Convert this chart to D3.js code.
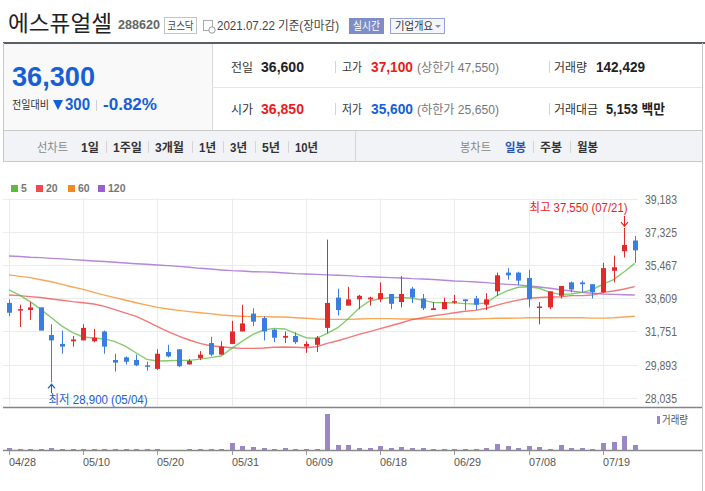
<!DOCTYPE html>
<html lang="ko">
<head>
<meta charset="utf-8">
<title>에스퓨얼셀 일봉</title>
<script src="https://d3js.org/d3.v7.min.js"></script>
<style>
    body { margin: 0; background: #fff; }
    svg { display: block; font-family: "Liberation Sans", "Noto Sans CJK KR", sans-serif; }
</style>
</head>
<body>
<div id="chart"></div>
<script>
    // trading days shown on the daily candle chart
    var dates = ["04/28", "04/29", "04/30", "05/03", "05/04", "05/06", "05/07", "05/10", "05/11", "05/12",
        "05/13", "05/14", "05/17", "05/18", "05/20", "05/21", "05/24", "05/25", "05/26", "05/27",
        "05/28", "05/31", "06/01", "06/02", "06/03", "06/04", "06/07", "06/08", "06/09", "06/10",
        "06/11", "06/14", "06/15", "06/16", "06/17", "06/18", "06/21", "06/22", "06/23", "06/24",
        "06/25", "06/28", "06/29", "06/30", "07/01", "07/02", "07/05", "07/06", "07/07", "07/08",
        "07/09", "07/12", "07/13", "07/14", "07/15", "07/16", "07/19", "07/20", "07/21", "07/22"];

    var open = [33350, 32950, 32950, 33100, 31550, 31050, 31200, 31250, 31200, 31750,
        30150, 30300, 30150, 29850, 29650, 30600, 30750, 29900, 30250, 31100,
        30450, 31050, 31750, 32750, 32500, 31850, 31400, 31500, 30900, 31000,
        31950, 33650, 33200, 33550, 33550, 33550, 33850, 33400, 34150, 33600,
        32950, 33000, 33400, 33550, 33600, 33250, 34000, 35050, 35050, 34750,
        33100, 33100, 33750, 34500, 34500, 34400, 33950, 35150, 36250, 36850];
    var high = [33550, 33250, 33400, 33100, 32150, 31800, 31500, 32150, 31900, 31800,
        30500, 30350, 30450, 30050, 30750, 31000, 30750, 30200, 30650, 31450,
        31200, 32350, 33250, 33050, 32600, 31900, 31750, 31700, 31200, 31500,
        36900, 34150, 34250, 33800, 33700, 34500, 33850, 34850, 34250, 33850,
        33400, 33650, 33800, 33550, 33750, 33900, 35050, 35300, 35100, 35200,
        33400, 34000, 34300, 34550, 34600, 34400, 35600, 36000, 37550, 37100];
    var low = [32600, 32000, 32400, 31800, 28900, 30500, 30900, 31250, 31150, 30500,
        29500, 29900, 29800, 29550, 29600, 30300, 29750, 29900, 30150, 30350,
        30450, 31050, 31750, 32050, 31250, 31150, 31100, 31050, 30550, 30600,
        31650, 32650, 33200, 33000, 33200, 33400, 33000, 33100, 33350, 32950,
        32950, 33000, 33300, 32950, 32950, 32950, 33750, 34650, 34350, 33100,
        32150, 33000, 33600, 33950, 33950, 33600, 33900, 34500, 35900, 35600];
    var close = [32800, 33000, 33100, 31800, 31250, 30900, 31300, 31950, 31400, 30900,
        30000, 30050, 29850, 29800, 30500, 30350, 29800, 30100, 30450, 30450,
        30900, 31750, 32200, 32300, 31750, 31400, 31500, 31150, 31050, 31400,
        33350, 32950, 33550, 33750, 33650, 33900, 33300, 33850, 33650, 33050,
        33050, 33400, 33450, 33450, 33250, 33550, 34900, 34900, 34600, 33550,
        33150, 34000, 34300, 34100, 34400, 33950, 35300, 35350, 36600, 36300];
    var volume = [65000, 38000, 35000, 40000, 70000, 36000, 33000, 40000, 34000, 36000,
        38000, 33000, 32000, 35000, 38000, 10000, 12000, 36000, 40000, 42000,
        40000, 205000, 125000, 95000, 68000, 42000, 66000, 38000, 40000, 42000,
        1080000, 145000, 145000, 66000, 64000, 115000, 65000, 85000, 64000, 66000,
        38000, 36000, 40000, 38000, 42000, 64000, 175000, 115000, 66000, 112000,
        85000, 42000, 142000, 64000, 66000, 42000, 205000, 235000, 420000, 142429];

    var ma5 = [34080, 33790, 33420, 32990, 32520, 32050, 31680, 31440, 31380, 31330,
        31180, 30910, 30540, 30180, 30090, 30110, 30130, 30130, 30200, 30280,
        30370, 30800, 31210, 31590, 31830, 31920, 31890, 31640, 31400, 31360,
        31640, 31960, 32480, 33050, 33460, 33590, 33650, 33650, 33610, 33510,
        33380, 33360, 33350, 33310, 33290, 33350, 33760, 34040, 34230, 34260,
        34170, 33940, 33830, 33850, 33940, 34090, 34410, 34660, 35100, 35570];
    var ma20 = [33790, 33760, 33700, 33650, 33570, 33500, 33420, 33360, 33290, 33160,
        32970, 32780, 32600, 32320, 32020, 31740, 31490, 31270, 31080, 30950,
        30890, 30840, 30800, 30800, 30820, 30860, 30880, 30860, 30840, 30890,
        31080, 31230, 31400, 31590, 31740, 31910, 32070, 32240, 32410, 32520,
        32630, 32710, 32800, 32880, 32930, 33050, 33230, 33380, 33510, 33610,
        33650, 33680, 33700, 33760, 33760, 33790, 33940, 34020, 34130, 34260];
    var ma60 = [34920, 34840, 34770, 34650, 34540, 34390, 34240, 34110, 33940, 33790,
        33650, 33500, 33360, 33230, 33100, 33010, 32930, 32860, 32800, 32750,
        32670, 32630, 32600, 32580, 32580, 32560, 32560, 32520, 32490, 32450,
        32430, 32430, 32430, 32450, 32470, 32470, 32470, 32450, 32450, 32450,
        32450, 32450, 32450, 32450, 32450, 32470, 32490, 32490, 32500, 32520,
        32520, 32520, 32520, 32520, 32520, 32500, 32500, 32520, 32560, 32600];
    var ma120 = [35980, 35950, 35910, 35890, 35850, 35820, 35780, 35740, 35700, 35670,
        35630, 35590, 35550, 35520, 35480, 35440, 35400, 35350, 35290, 35250,
        35200, 35160, 35140, 35100, 35090, 35070, 35030, 34990, 34970, 34950,
        34920, 34900, 34880, 34840, 34820, 34790, 34770, 34750, 34710, 34690,
        34660, 34620, 34580, 34560, 34520, 34490, 34430, 34390, 34360, 34300,
        34240, 34170, 34090, 34020, 33940, 33890, 33850, 33830, 33810, 33790];

    var maNames = ["5", "20", "60", "120"];
    var maColors = ["#5dbb3f", "#ef4b4b", "#f5891f", "#9d5fcf"];
    var priceTicks = [39183, 37325, 35467, 33609, 31751, 29893, 28035];
    var dateTicks = ["04/28", "05/10", "05/20", "05/31", "06/09", "06/18", "06/29", "07/08", "07/19"];

    var upColor = "#e12b2b", downColor = "#3a7fe0";
    var blue = "#1560d6", red = "#ec1c1c";

    var svg = d3.select("#chart")
        .append("svg")
        .attr("width", 705)
        .attr("height", 491);

    function txt(x, y, s, size, color, opt) {
        opt = opt || {};
        var t = svg.append("text")
            .attr("x", x)
            .attr("y", y)
            .style("font-size", size + "px")
            .style("fill", color)
            .text(s);
        if (opt.bold) t.style("font-weight", "bold");
        if (opt.len) t.attr("textLength", opt.len).attr("lengthAdjust", "spacingAndGlyphs");
        if (opt.anchor) t.attr("text-anchor", opt.anchor);
        return t;
    }
    function hline(x1, x2, y, color, w) {
        svg.append("line").attr("x1", x1).attr("x2", x2).attr("y1", y).attr("y2", y)
            .attr("stroke", color).attr("stroke-width", w || 1);
    }
    function vline(x, y1, y2, color, w) {
        svg.append("line").attr("x1", x).attr("x2", x).attr("y1", y1).attr("y2", y2)
            .attr("stroke", color).attr("stroke-width", w || 1);
    }

    // ---- header ----
    txt(8, 31, "에스퓨얼셀", 22, "#222", { len: 104 });
    txt(118, 29, "288620", 12.5, "#666", { bold: true, len: 42 });
    svg.append("rect").attr("x", 164.5).attr("y", 17.5).attr("width", 32).attr("height", 16)
        .attr("fill", "#fff").attr("stroke", "#c4c4c4");
    txt(180.5, 29.5, "코스닥", 11, "#444", { anchor: "middle", len: 26 });
    svg.append("rect").attr("x", 203.5).attr("y", 20.5).attr("width", 9).attr("height", 10)
        .attr("fill", "#fff").attr("stroke", "#aaa");
    svg.append("circle").attr("cx", 212).attr("cy", 30).attr("r", 3.2)
        .attr("fill", "#fff").attr("stroke", "#999");
    txt(217, 30, "2021.07.22 기준(장마감)", 12, "#444", { len: 122 });
    svg.append("rect").attr("x", 349).attr("y", 18).attr("width", 35).attr("height", 16)
        .attr("fill", "#7d8dc6");
    txt(366.5, 30, "실시간", 11, "#fff", { anchor: "middle", len: 27 });
    svg.append("rect").attr("x", 390.5).attr("y", 18.5).attr("width", 54).attr("height", 15)
        .attr("fill", "#f4f5fb").attr("stroke", "#95a3d1");
    txt(395, 30, "기업개요", 11, "#333", { len: 38 });
    svg.append("path").attr("d", "M435,25 L441,25 L438,28 Z").attr("fill", "#8a8fa8");

    // ---- price summary boxes ----
    svg.append("rect").attr("x", 3).attr("y", 44).attr("width", 209).attr("height", 86).attr("fill", "#f9f9f9");
    svg.append("rect").attr("x", 3).attr("y", 130).attr("width", 699).attr("height", 31).attr("fill", "#f2f3f7");
    hline(3, 705, 43, "#5a5f66", 2);
    vline(212.5, 44, 130, "#d8d8d8");
    hline(212, 702, 87.5, "#e6e6e6");
    hline(3, 702, 130.5, "#c9c9c9");
    hline(3, 702, 161.5, "#c9c9c9");
    vline(3.5, 43, 161, "#c9c9c9");
    vline(702.5, 43, 491, "#c9c9c9");
    vline(355.5, 131, 161, "#d5d5d5");

    txt(12, 86, "36,300", 27, blue, { bold: true, len: 83 });
    txt(12, 109, "전일대비", 11, "#333", { len: 37 });
    svg.append("path").attr("d", "M53,100 L63,100 L58,110 Z").attr("fill", blue);
    txt(65, 110, "300", 16, blue, { bold: true, len: 25 });
    vline(96.5, 100, 111, "#d0d0d0");
    txt(103, 110, "-0.82%", 16, blue, { bold: true, len: 54 });

    var rowY = [72, 114];
    txt(231, rowY[0], "전일", 12, "#333", { len: 22 });
    txt(261, rowY[0], "36,600", 14, "#222", { bold: true, len: 43 });
    txt(342, rowY[0], "고가", 12, "#333", { len: 20 });
    txt(371, rowY[0], "37,100", 14, red, { bold: true, len: 42 });
    txt(417, rowY[0], "(상한가 47,550)", 12, "#777", { len: 82 });
    txt(554, rowY[0], "거래량", 12, "#333", { len: 33 });
    txt(596, rowY[0], "142,429", 14, "#222", { bold: true, len: 49 });
    txt(231, rowY[1], "시가", 12, "#333", { len: 22 });
    txt(261, rowY[1], "36,850", 14, red, { bold: true, len: 43 });
    txt(342, rowY[1], "저가", 12, "#333", { len: 20 });
    txt(371, rowY[1], "35,600", 14, blue, { bold: true, len: 42 });
    txt(417, rowY[1], "(하한가 25,650)", 12, "#777", { len: 82 });
    txt(554, rowY[1], "거래대금", 12, "#333", { len: 44 });
    txt(606, rowY[1], "5,153 백만", 14, "#222", { bold: true, len: 59 });
    [335.5, 549.5].forEach(function (x) {
        vline(x, rowY[0] - 11, rowY[0] + 1, "#d5d5d5");
        vline(x, rowY[1] - 11, rowY[1] + 1, "#d5d5d5");
    });

    // ---- period toolbar ----
    var barY = 152;
    txt(37, barY, "선차트", 12, "#888", { len: 31 });
    var periods = [["1일", 81, 18], ["1주일", 113, 29], ["3개월", 155, 29], ["1년", 199, 17],
        ["3년", 230, 17], ["5년", 262, 18], ["10년", 295, 23]];
    periods.forEach(function (p, i) {
        txt(p[1], barY, p[0], 12.5, "#333", { bold: true, len: p[2] });
        if (i > 0) vline(p[1] - 6.5, barY - 11, barY + 1, "#d5d5d5");
    });
    txt(460, barY, "봉차트", 12, "#888", { len: 31 });
    txt(505, barY, "일봉", 12.5, "#2c55b4", { bold: true, len: 21 });
    vline(533.5, barY - 11, barY + 1, "#d5d5d5");
    txt(540, barY, "주봉", 12.5, "#333", { bold: true, len: 22 });
    vline(570.5, barY - 11, barY + 1, "#d5d5d5");
    txt(577, barY, "월봉", 12.5, "#333", { bold: true, len: 21 });

    // ---- MA legend ----
    var legX = [11, 36, 68, 98];
    maNames.forEach(function (n, i) {
        svg.append("rect").attr("x", legX[i]).attr("y", 185).attr("width", 7).attr("height", 7)
            .attr("fill", maColors[i]);
        txt(legX[i] + 10, 192, n, 10.5, "#777", { bold: true });
    });

    // ---- scales ----
    var x = d3.scalePoint().domain(dates).range([9, 634.8]);
    var y = d3.scaleLinear().domain([28035, 39183]).range([397.7, 198.9]);
    var vy = d3.scaleLinear().domain([0, d3.max(volume)]).range([450, 414]);

    // grid
    priceTicks.forEach(function (p) {
        hline(3, 638, Math.round(y(p)) + 0.5, "#ececec");
        txt(645, Math.round(y(p)) + 4.5, d3.format(",")(p), 12, "#666", { len: 32 });
    });
    dateTicks.forEach(function (d) {
        var xx = Math.round(x(d)) + 0.5;
        vline(xx, 198, 406, "#ececec");
    });

    // moving averages
    var line = d3.line()
        .x(function (d, i) { return x(dates[i]); })
        .y(function (d) { return y(d); });
    [ma120, ma60, ma20, ma5].forEach(function (s, k) {
        svg.append("path")
            .attr("d", line(s))
            .attr("fill", "none")
            .attr("stroke", maColors[3 - k])
            .attr("stroke-opacity", 0.75)
            .attr("stroke-width", 1.4);
    });

    // candles
    var candles = svg.append("g").selectAll("g")
        .data(dates)
        .enter().append("g");
    candles.append("line")
        .attr("x1", function (d) { return Math.round(x(d)) + 0.5; })
        .attr("x2", function (d) { return Math.round(x(d)) + 0.5; })
        .attr("y1", function (d, i) { return y(high[i]); })
        .attr("y2", function (d, i) { return y(low[i]); })
        .attr("stroke", function (d, i) { return close[i] >= open[i] ? upColor : downColor; })
        .attr("stroke-width", 1);
    candles.append("rect")
        .attr("x", function (d) { return Math.round(x(d)) - 2; })
        .attr("y", function (d, i) { return y(Math.max(open[i], close[i])); })
        .attr("width", 5)
        .attr("height", function (d, i) { return Math.max(1.5, Math.abs(y(open[i]) - y(close[i]))); })
        .attr("fill", function (d, i) { return close[i] >= open[i] ? upColor : downColor; });

    // high / low markers
    var hiIdx = d3.maxIndex(high), loIdx = d3.minIndex(low);
    var hx = Math.round(x(dates[hiIdx])) + 0.5, hy = y(high[hiIdx]);
    vline(hx, hy - 12, hy - 2, red);
    svg.append("path").attr("d", "M" + (hx - 3.5) + "," + (hy - 6) + " L" + hx + "," + (hy - 2) + " L" + (hx + 3.5) + "," + (hy - 6))
        .attr("fill", "none").attr("stroke", red).attr("stroke-width", 1.2);
    txt(hx + 3, hy - 16, "최고 " + d3.format(",")(high[hiIdx]) + " (" + dates[hiIdx] + ")", 12, red,
        { anchor: "end", len: 98 });
    var lx = Math.round(x(dates[loIdx])) + 0.5, ly = y(low[loIdx]);
    vline(lx, ly + 2, ly + 11, blue);
    svg.append("path").attr("d", "M" + (lx - 3.5) + "," + (ly + 6) + " L" + lx + "," + (ly + 2) + " L" + (lx + 3.5) + "," + (ly + 6))
        .attr("fill", "none").attr("stroke", blue).attr("stroke-width", 1.2);
    txt(lx - 3, ly + 22, "최저 " + d3.format(",")(low[loIdx]) + " (" + dates[loIdx] + ")", 12, blue, { len: 99 });

    // ---- volume panel ----
    hline(3, 702, 407.5, "#80858b", 1.5);
    svg.append("g").selectAll("rect")
        .data(volume)
        .enter().append("rect")
        .attr("x", function (d, i) { return Math.round(x(dates[i])) - 2; })
        .attr("width", 5)
        .attr("y", function (d) { return 450 - Math.round(450 - vy(d)); })
        .attr("height", function (d) { return Math.round(450 - vy(d)); })
        .attr("fill", "#9b86c6");
    svg.append("rect").attr("x", 657).attr("y", 416).attr("width", 3).attr("height", 8).attr("fill", "#9b86c6");
    txt(662, 424, "거래량", 11, "#555", { len: 26 });

    // date axis
    var xAxis = svg.append("g")
        .attr("transform", "translate(0,450)");
    hline(3, 702, 450.5, "#8a8a8a", 1.5);
    dateTicks.forEach(function (d) {
        var xx = Math.round(x(d)) + 0.5;
        vline(xx, 451, 455, "#999");
        xAxis.append("text")
            .attr("x", xx - 0.5)
            .attr("y", 16)
            .style("font-size", "11px")
            .style("fill", "#555")
            .attr("textLength", 27)
            .attr("lengthAdjust", "spacingAndGlyphs")
            .text(d);
    });
</script>
</body>
</html>
